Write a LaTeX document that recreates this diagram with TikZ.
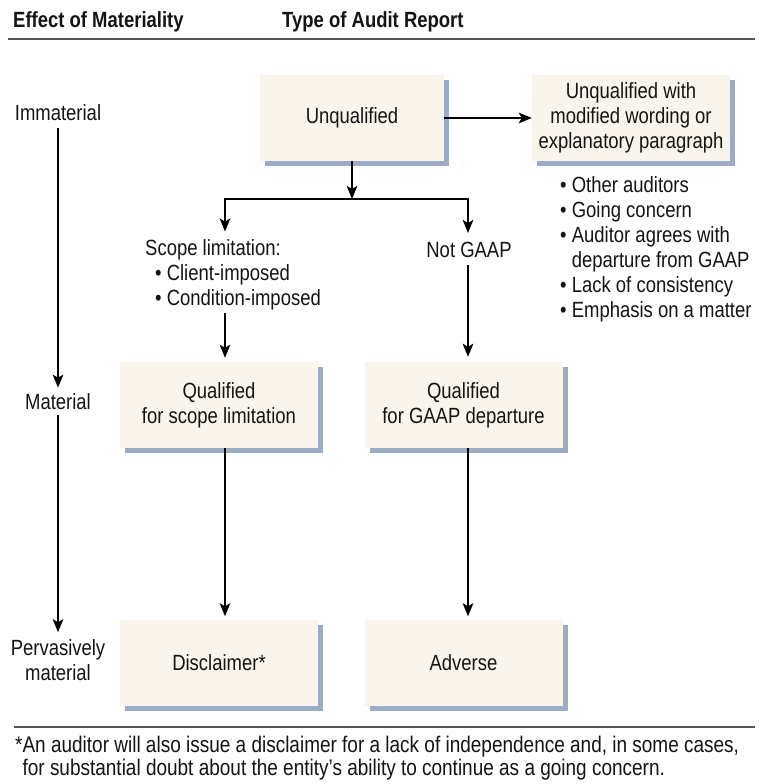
\documentclass[tikz,border=0pt]{standalone}
\usepackage{fontspec}
\setmainfont{Liberation Sans}[FakeStretch=0.84]
\usetikzlibrary{arrows.meta,shadows}
\definecolor{boxfill}{RGB}{249,245,236}
\definecolor{shade}{RGB}{140,158,188}
\definecolor{rulegray}{RGB}{85,85,85}
\definecolor{ink}{RGB}{20,20,20}
\begin{document}
\begin{tikzpicture}[x=1pt,y=-1pt,
  font=\fontsize{22}{25}\selectfont, text=ink,
  box/.style={fill=boxfill, inner sep=0pt, align=center,
    minimum width=198pt, minimum height=86pt,
    drop shadow={shadow xshift=5pt, shadow yshift=-5pt, fill=shade, opacity=0.85}},
  lbl/.style={inner sep=0pt, align=center},
  arr/.style={-{Stealth[length=13pt,width=10.5pt,inset=3pt]}, line width=2.1pt, draw=black},
  plain/.style={line width=2.1pt, draw=black},
  rule/.style={draw=rulegray, line width=1.5pt}]
\useasboundingbox (0,0) rectangle (763,784);

% header
\node[lbl, anchor=west, font=\fontsize{22}{25}\selectfont\bfseries] (h1) at (13,22) {Effect of Materiality};
\node[lbl, anchor=west, font=\fontsize{22}{25}\selectfont\bfseries] (h2) at (282,22) {Type of Audit Report};
\draw[rule] (8,39) -- (755,39);

% left column
\node[lbl] (imm) at (58,113) {Immaterial};
\node[lbl] (mat) at (58,402) {Material};
\node[lbl] (perv) at (58,660) {Pervasively\\material};
\draw[arr, shorten <=7pt, shorten >=6pt] (imm) -- (mat);
\draw[arr, shorten <=5pt, shorten >=7pt] (mat) -- (perv);

% boxes
\node[box, minimum width=184pt] (unq) at (352,118) {Unqualified};
\node[box] (umod) at (631,118) {Unqualified with\\modified wording or\\explanatory paragraph};
\node[box] (qs) at (219,405) {Qualified\\for scope limitation};
\node[box] (qg) at (463.5,405) {Qualified\\for GAAP departure};
\node[box] (dis) at (219,662.5) {Disclaimer*};
\node[box] (adv) at (463.5,662.5) {Adverse};

% labels
\node[lbl, align=left, anchor=west] (scope) at (145,275) {Scope limitation:\\\hspace*{10pt}• Client-imposed\\\hspace*{10pt}• Condition-imposed};
\node[lbl] (ng) at (469,250) {Not GAAP};
\node[lbl, align=left, anchor=west] (rl) at (560,249) {• Other auditors\\• Going concern\\• Auditor agrees with\\\hphantom{• }departure from GAAP\\• Lack of consistency\\• Emphasis on a matter};

% connectors
\coordinate (split) at (352,199);
\coordinate (bl) at (225,199);
\coordinate (br) at (468,199);
\draw[arr] (unq) -- (umod);
\draw[arr] (unq) -- (split);
\draw[plain] ([xshift=-1.05pt]bl) -- ([xshift=1.05pt]br);
\draw[arr, shorten >=8pt] (bl) -- (bl |- scope.north);
\draw[arr, shorten >=9pt] (br) -- (br |- ng.north);
\draw[arr, shorten <=3pt, shorten >=4pt] (bl |- scope.south) -- (bl |- qs.north);
\draw[arr, shorten <=7pt, shorten >=5pt] (br |- ng.south) -- (br |- qg.north);
\draw[arr, shorten >=3pt] (bl |- qs.south) -- (bl |- dis.north);
\draw[arr, shorten >=3pt] (br |- qg.south) -- (br |- adv.north);

% footnote
\draw[rule] (14,727) -- (755,727);
\node[lbl, align=left, anchor=west, font=\fontsize{22.6}{23}\selectfont] (fn) at (15,758) {*An auditor will also issue a disclaimer for a lack of independence and, in some cases,\\\hphantom{*}for substantial doubt about the entity's ability to continue as a going concern.};
\end{tikzpicture}
\end{document}
